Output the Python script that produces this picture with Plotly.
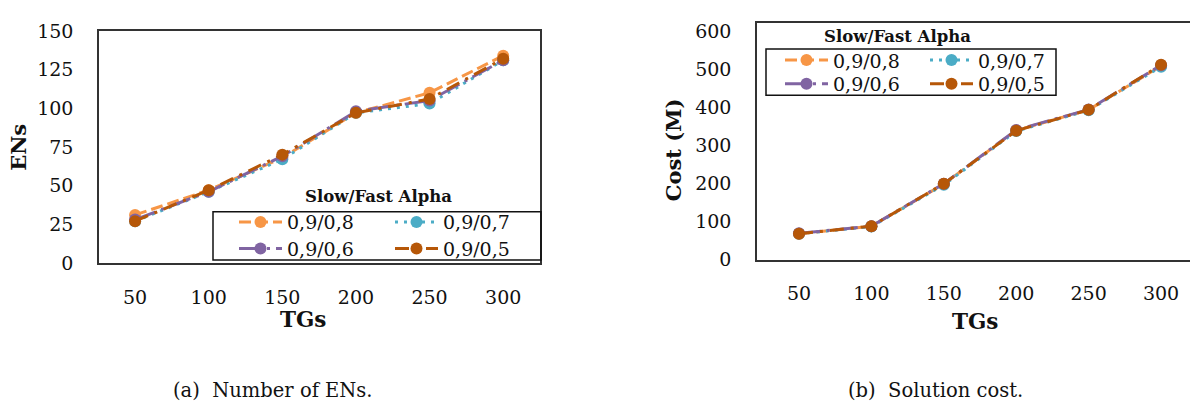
import plotly.graph_objects as go

W, H = 1190, 415

tgs = ["50", "100", "150", "200", "250", "300"]
series_names = ["0,9/0,8", "0,9/0,7", "0,9/0,6", "0,9/0,5"]

ens_08 = [31, 47, 68, 97, 110, 134]
ens_07 = [27, 46, 67, 97, 103, 131]
ens_06 = [28, 46, 69, 98, 105, 131]
ens_05 = [27, 47, 70, 97, 106, 132]

cost_08 = [67, 87, 198, 340, 394, 510]
cost_07 = [67, 86, 196, 338, 393, 508]
cost_06 = [68, 87, 199, 341, 395, 512]
cost_05 = [67, 87, 199, 339, 394, 513]

ens_ticks = [0, 25, 50, 75, 100, 125, 150]
cost_ticks = [0, 100, 200, 300, 400, 500, 600]

colors = ["#F79646", "#4BACC6", "#8064A2", "#B65708"]
dashes = ["12px,5px", "3px,6px", "22px,6px,3px,6px", "14px,7px,3px,7px"]

FONT = "DejaVu Serif"


def px(x):
    return x / W


def py(y):
    return 1 - y / H


fig = go.Figure()

left_data = [ens_08, ens_07, ens_06, ens_05]
right_data = [cost_08, cost_07, cost_06, cost_05]

# legend entry positions (symbol start x, row center y) in pixels
left_leg = [(237, 223), (393, 223), (237, 251), (393, 251)]
right_leg = [(783, 52), (928, 52), (783, 77), (928, 77)]

legends = {}
for i in range(4):
    fig.add_trace(go.Scatter(
        x=tgs, y=left_data[i], name=series_names[i], mode="lines+markers",
        line=dict(color=colors[i], width=3, dash=dashes[i]),
        marker=dict(color=colors[i], size=12, symbol="circle"),
        xaxis="x", yaxis="y", legend="legend" if i == 0 else f"legend{i+1}",
    ))
for i in range(4):
    fig.add_trace(go.Scatter(
        x=tgs, y=right_data[i], name=series_names[i], mode="lines+markers",
        line=dict(color=colors[i], width=3, dash=dashes[i]),
        marker=dict(color=colors[i], size=12, symbol="circle"),
        xaxis="x2", yaxis="y2", legend=f"legend{i+5}",
    ))

OFF = 3
for i, (lx, ly) in enumerate(left_leg + right_leg):
    key = "legend" if i == 0 else f"legend{i+1}"
    legends[key] = dict(
        x=px(lx - OFF), y=py(ly), xanchor="left", yanchor="middle",
        bgcolor="rgba(0,0,0,0)", borderwidth=0, itemwidth=43,
        font=dict(family=FONT, size=19, color="#111"),
    )

axis_common = dict(showgrid=False, zeroline=False, ticks="", showline=True,
                   linecolor="#333", linewidth=1.6,
                   tickfont=dict(family=FONT, size=19, color="#111"))

fig.update_layout(
    width=W, height=H, margin=dict(l=0, r=0, t=0, b=0),
    paper_bgcolor="white", plot_bgcolor="white", showlegend=True,
    xaxis=dict(domain=[px(99), px(540)], anchor="y", type="category",
               range=[-0.49, 5.5], mirror=True, ticklabelstandoff=17, **axis_common),
    yaxis=dict(domain=[py(266), py(21)], anchor="x", range=[0, 150],
               tickvals=ens_ticks, mirror=True, ticklabelstandoff=20, **axis_common),
    xaxis2=dict(domain=[px(757), 1.0], anchor="y2", type="category",
                range=[-0.58, 5.40], mirror=True, ticklabelstandoff=15, **axis_common),
    yaxis2=dict(domain=[py(263), py(13)], anchor="x2", range=[-2.5, 622.5],
                tickvals=cost_ticks, mirror=False, ticklabelstandoff=20, **axis_common),
    **legends,
)

# legend frames
fig.add_shape(type="rect", xref="paper", yref="paper",
              x0=px(213), x1=px(541), y0=py(263), y1=py(212),
              line=dict(color="#111", width=1.5), fillcolor="rgba(0,0,0,0)")
fig.add_shape(type="rect", xref="paper", yref="paper",
              x0=px(766), x1=px(1056), y0=py(89), y1=py(40),
              line=dict(color="#111", width=1.5), fillcolor="rgba(0,0,0,0)")

ann = [
    dict(text="<b>Slow/Fast Alpha</b>", x=px(378), y=py(196), size=16.5, angle=0),
    dict(text="<b>Slow/Fast Alpha</b>", x=px(897), y=py(27), size=16.5, angle=0),
    dict(text="<b>ENs</b>", x=px(18.5), y=py(144), size=21, angle=-90),
    dict(text="<b>Cost (M)</b>", x=px(673), y=py(147), size=21, angle=-90),
    dict(text="<b>TGs</b>", x=px(303), y=py(326), size=21.5, angle=0),
    dict(text="<b>TGs</b>", x=px(975), y=py(328), size=21.5, angle=0),
    dict(text="(a)  Number of ENs.", x=px(273), y=py(401), size=19.5, angle=0),
    dict(text="(b)  Solution cost.", x=px(935), y=py(401), size=19.5, angle=0),
]
for a in ann:
    fig.add_annotation(text=a["text"], x=a["x"], y=a["y"], xref="paper", yref="paper",
                       xanchor="center", yanchor="middle", showarrow=False,
                       textangle=a["angle"],
                       font=dict(family=FONT, size=a["size"], color="#111"))

fig.write_html("out.html")
